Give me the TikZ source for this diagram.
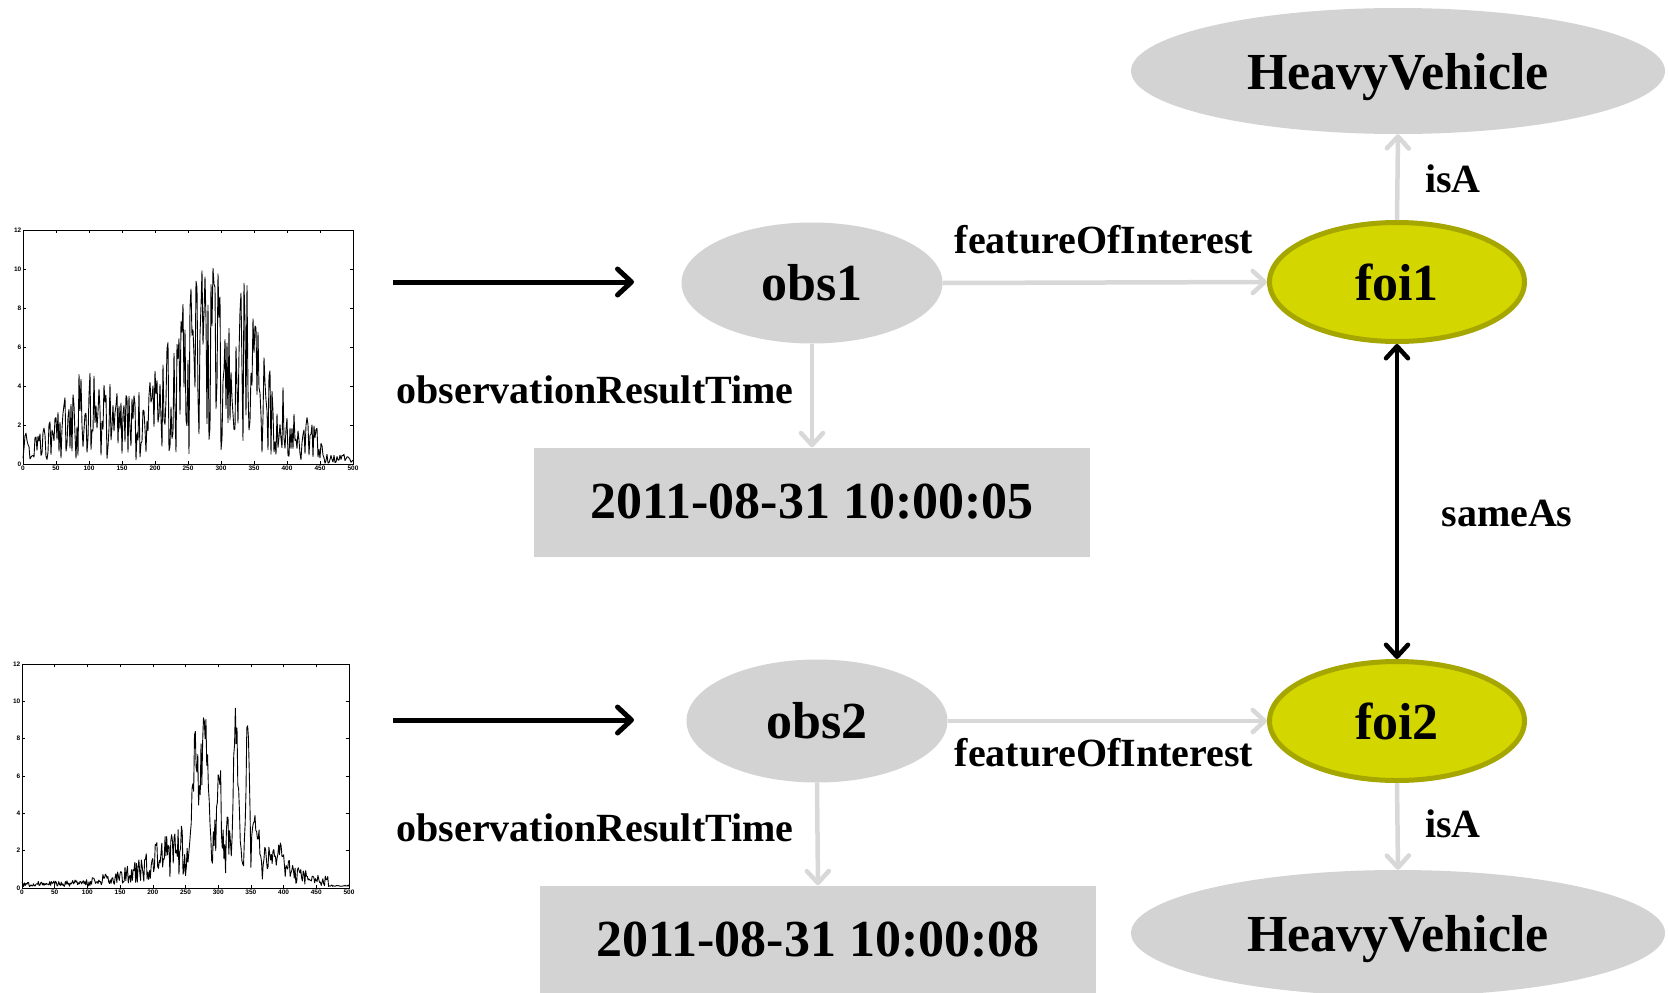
\documentclass[tikz,border=0pt]{standalone}
\usepackage{fontspec}
\setmainfont{Liberation Serif}
\newfontfamily\ticksfont{Liberation Sans}
\usetikzlibrary{arrows.meta,shapes.geometric}

\definecolor{nodegray}{RGB}{211,211,211}
\definecolor{linkgray}{RGB}{216,216,216}
\definecolor{foifill}{RGB}{212,214,0}
\definecolor{foiedge}{RGB}{166,166,0}

% frame, ticks and tick labels of a small time-series chart (x: 0..500, y: 0..12)
\newcommand\drawchartframe{%
  \draw[line width=0.8pt] (0,0) rectangle (500,12);
  \foreach \t in {0,50,...,500} {
    \draw[line width=0.6pt] (\t,0) -- ++(0pt,3pt) (\t,12) -- ++(0pt,-3pt);
    \node[ticklabel, below] at (\t,0) {\t};
  }
  \foreach \v in {0,2,...,12} {
    \draw[line width=0.6pt] (0,\v) -- ++(3pt,0pt) (500,\v) -- ++(-3pt,0pt);
    \node[ticklabel, left] at (0,\v) {\v};
  }
}

\begin{document}
\begin{tikzpicture}[x=1pt, y=-1pt,
  bigtext/.style={font=\bfseries\fontsize{52}{60}\selectfont},
  smalltext/.style={font=\bfseries\fontsize{40}{48}\selectfont},
  ticklabel/.style={font=\ticksfont\bfseries\fontsize{6.5}{7}\selectfont, inner sep=1.5pt},
  entity/.style={ellipse, fill=nodegray, inner sep=0pt, bigtext},
  classnode/.style={entity, minimum width=534pt, minimum height=126pt, text depth=0pt},
  feature/.style={ellipse, fill=foifill, draw=foiedge, line width=5pt, inner sep=0pt,
                  minimum width=255pt, minimum height=119pt, bigtext},
  timebox/.style={rectangle, fill=nodegray, inner sep=0pt,
                  minimum width=556pt, minimum height=109pt, bigtext},
  link/.style={draw=linkgray, line width=4.5pt, -{Straight Barb[length=12pt,width=22pt,round]}},
  feed/.style={draw=black, line width=5pt, -{Straight Barb[length=14pt,width=26pt,round]}},
  same/.style={draw=black, line width=4.5pt,
               {Straight Barb[length=12pt,width=22pt,round]}-{Straight Barb[length=12pt,width=22pt,round]}},
  series/.style={line width=0.9pt, line join=round},
  declare function={
    gp(\t,\c,\w)=exp(-min(((\t-\c)/\w)^2,9));
    envA(\t)=(\t<455)*(1.6+3.4*gp(\t,100,45)
             +9.5*((\t<300)*gp(\t,300,100)+(\t>=300)*gp(\t,300,85)))
             +(\t>=455)*0.5;
    humpB(\t)=(\t<468)*(0.2+2.2*gp(\t,290,110));
    peakB(\t)=4.5*gp(\t,265,6)+7*gp(\t,279,6)+4*gp(\t,302,3.5)+6.5*gp(\t,327,4.5)
              +7.5*gp(\t,345,3)+2*gp(\t,358,4)+1.5*gp(\t,395,4);
  }]
\useasboundingbox (0,0) rectangle (1668,993);
\pgfmathsetseed{7}

% upper chart
\begin{scope}[shift={(23,464)}, x=0.66pt, y=19.5pt]
  \drawchartframe
  \draw[series] plot[domain=0:500, samples=331]
    (\x, {min(11.9,envA(\x)*(0.05+0.95*rnd))});
\end{scope}

% lower chart
\begin{scope}[shift={(22,888)}, x=0.654pt, y=18.67pt]
  \drawchartframe
  \draw[series] plot[domain=0:500, samples=401]
    (\x, {humpB(\x)*(0.3+1.4*rnd)+peakB(\x)+(\x>=468)*(0.08+0.08*rnd)});
\end{scope}

% nodes
\node[classnode] (hv1) at (1398,71) {HeavyVehicle};
\node[feature] (foi1) at (1397,282) {foi1};
\node[entity, minimum width=261pt, minimum height=121pt] (obs1) at (812,283) {obs1};
\node[timebox] (t1) at (812,502) {2011-08-31 10:00:05};

\node[entity, minimum width=261pt, minimum height=123pt] (obs2) at (817,721) {obs2};
\node[feature] (foi2) at (1397,721) {foi2};
\node[timebox] (t2) at (818,940) {2011-08-31 10:00:08};
\node[classnode] (hv2) at (1398,933) {HeavyVehicle};

% free ends of the input arrows
\coordinate (in1s) at (393,282);
\coordinate (in1e) at (634,282);
\coordinate (in2s) at (393,720);
\coordinate (in2e) at (634,720);

% connectors
\draw[feed] (in1s) -- (in1e);
\draw[feed] (in2s) -- (in2e);
\draw[link] (obs1.east) -- (foi1.west);
\draw[link] (obs2.east) -- (foi2.west);
\draw[link] (obs1.south) -- (t1.north);
\draw[link] (obs2.south) -- (t2.north);
\draw[link] (foi1.north) -- (hv1.south);
\draw[link] (foi2.south) -- (hv2.north);
\draw[same] (foi1.south) -- (foi2.north);

% edge labels
\node[smalltext] (lfoi1) at (1104,240) {featureOfInterest};
\node[smalltext] (lfoi2) at (1104,753) {featureOfInterest};
\node[smalltext] (lrt1) at (595,390) {observationResultTime};
\node[smalltext] (lrt2) at (595,828) {observationResultTime};
\node[smalltext] (lisa1) at (1453,179) {isA};
\node[smalltext] (lisa2) at (1453,824) {isA};
\node[smalltext] (lsame) at (1507,513) {sameAs};
\end{tikzpicture}
\end{document}
